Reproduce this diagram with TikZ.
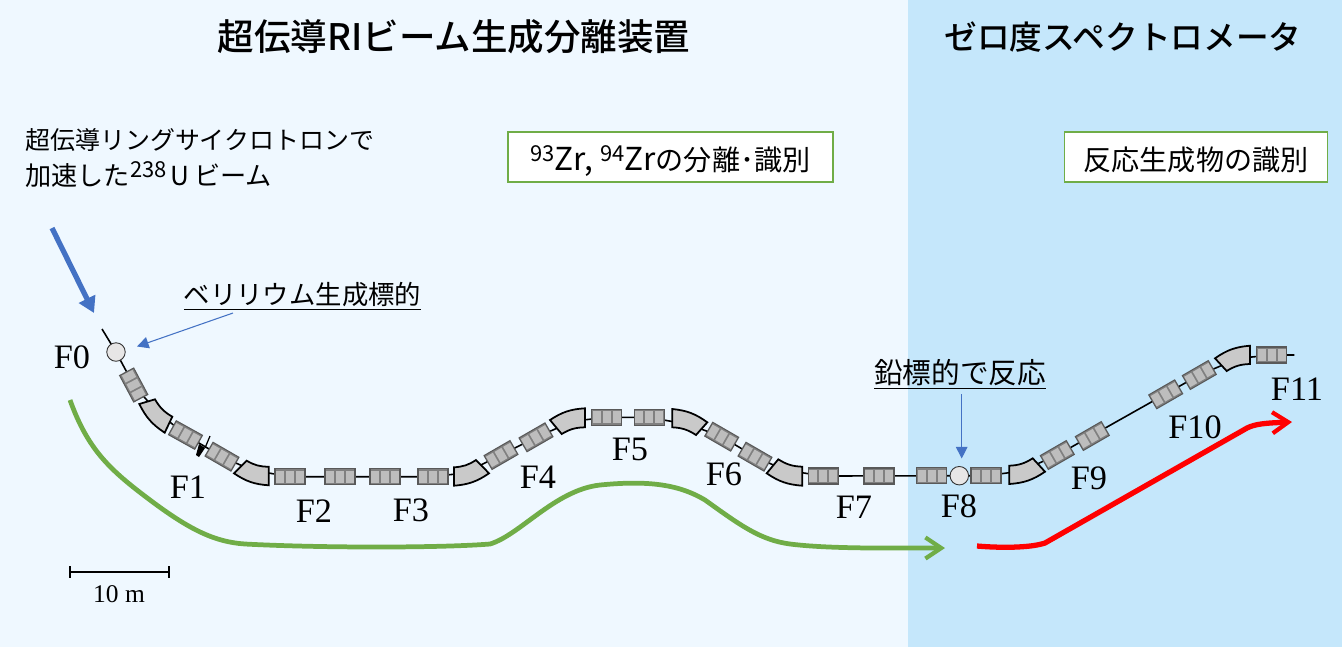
\documentclass[tikz,border=0pt]{standalone}
\usepackage{fontspec}
\setmainfont{Noto Sans CJK JP}
\newfontfamily\titlefont{Noto Sans CJK JP Medium}
\newfontfamily\labelfont{Liberation Serif}
\usetikzlibrary{calc,positioning,arrows.meta}
\pgfdeclarelayer{beamlayer}
\pgfdeclarelayer{backlayer}
\pgfsetlayers{backlayer,beamlayer,main}
\definecolor{leftbg}{HTML}{EFF8FF}
\definecolor{rightbg}{HTML}{C5E7FB}
\definecolor{boxgreen}{HTML}{70AD47}
\definecolor{beamblue}{HTML}{4472C4}
\definecolor{quadgray}{HTML}{808080}
\definecolor{celllight}{HTML}{BDBDBD}
\definecolor{dipolegray}{HTML}{C9C9C9}
\definecolor{targetgray}{HTML}{E7E6E6}

% quadrupole: name, position, angle
\newcommand{\quadmag}[3]{
	\node[quad box, rotate=#3] (#1) at (#2) {};
	\foreach \i in {0.18,0.5,0.82}
		\node[quad cell, rotate=#3] (#1-\i) at ($(#1.west)!\i!(#1.east)$) {};
}
% dipole: name, four corners, bend side of the first arc, of the second arc
\newcommand{\dipolemag}[7]{
	\draw[dipole] (#2) -- (#3) to[#6=15] (#4) -- (#5) to[#7=15] cycle;
	\coordinate (#1) at ($(#2)!.5!(#4)$);
}
\newcommand{\supnum}[1]{\raisebox{4.7pt}{\fontsize{12.5}{13}\selectfont #1}}
\newcommand{\latinbig}[1]{{\fontsize{18}{19}\selectfont #1}}

\begin{document}
\begin{tikzpicture}[
	%	style def
	x=0.02cm, y=-0.02cm,
	beam line/.style={line width=0.9pt, black},
	quad box/.style={draw=black!65, fill=quadgray, line width=0.6pt, minimum width=0.6cm, minimum height=0.32cm, inner sep=0pt},
	quad cell/.style={fill=celllight, minimum width=0.16cm, minimum height=0.24cm, inner sep=0pt},
	dipole/.style={draw=black, fill=dipolegray, line width=1pt, line join=miter},
	target/.style={circle, draw=black!80, fill=targetgray, line width=0.5pt, minimum size=0.37cm, inner sep=0pt},
	place label/.style={font=\labelfont\fontsize{19.5}{21}\selectfont, inner sep=0pt},
	jp text/.style={font=\fontsize{14.2}{20.4}\selectfont, inner sep=0pt},
	title text/.style={font=\titlefont\fontsize{20.8}{22}\selectfont, inner sep=0pt},
	green box/.style={draw=boxgreen, fill=white, line width=0.8pt, font=\fontsize{16}{17}\selectfont, inner sep=0pt, text height=16pt, text depth=1.2pt},
	flow line/.style={line width=2.7pt, line join=round, -{Straight Barb[length=9pt,width=12pt,line width=2.4pt]}},
	note arrow/.style={beamblue, line width=0.6pt, -{Triangle[length=6.6pt,width=6.6pt]}}
	]

	% background
	\begin{pgfonlayer}{backlayer}
		\fill[leftbg] (0,0) rectangle (908,647);
		\fill[rightbg] (908,0) rectangle (1342,647);
	\end{pgfonlayer}
	\useasboundingbox (0,0) rectangle (1342,647);

	% titles and boxes
	\node[title text] (title1) at (454,37) {超伝導RIビーム生成分離装置};
	\node[title text, font=\titlefont\fontsize{18.6}{22}\selectfont] (title2) at (1123,37) {ゼロ度スペクトロメータ};
	\node[jp text, align=left, anchor=west] (beamtext) at (25,158) {超伝導リングサイクロトロンで\\{\fontsize{14.9}{20.4}\selectfont 加速した\supnum{238}\,U\,ビーム}};
	\node[green box, minimum width=6.5cm, minimum height=1cm] (box1) at (670.5,157) {\supnum{93}\latinbig{Zr, }\supnum{94}\latinbig{Zr}の分離･識別};
	\node[green box, minimum width=5.26cm, minimum height=1cm] (box2) at (1196,157) {反応生成物の識別};

	% targets
	\node[target] (tgt0) at (116,352) {};
	\node[target] (tgt8) at (959.3,475.7) {};

	% quadrupoles and dipoles along the beam line
	\quadmag{q1}{133.7,385}{-62}
	\dipolemag{d1}{139.3,404}{155,399.3}{172.3,416.7}{164.7,432.7}{bend right}{bend left}
	\quadmag{q2}{185.5,435}{-29}
	\quadmag{q3}{222,456.7}{-30}
	\dipolemag{d2}{234,473.3}{246.7,460.7}{268.7,466.7}{268.7,485.3}{bend right}{bend left}
	\quadmag{q4}{290,476.7}{0}
	\quadmag{q5}{340,476.7}{0}
	\quadmag{q6}{385,476.7}{0}
	\quadmag{q7}{433,476.7}{0}
	\dipolemag{d3}{454,485.7}{454,467.3}{476,460}{489,473.3}{bend right}{bend left}
	\quadmag{q8}{501,455}{30}
	\quadmag{q9}{536,437.3}{30}
	\dipolemag{d4}{561.7,434}{550,420}{585,408.3}{585,427.3}{bend left}{bend right}
	\quadmag{q10}{606.7,417.3}{0}
	\quadmag{q11}{649.3,417.3}{0}
	\dipolemag{d5}{672.3,427.3}{672.3,409}{707.3,422.3}{696,435}{bend left}{bend right}
	\quadmag{q12}{721.7,436.7}{-30}
	\quadmag{q13}{755,456.7}{-30}
	\dipolemag{d6}{766.7,473.3}{778.3,459.3}{802.3,466.7}{802.3,485.7}{bend right}{bend left}
	\quadmag{q14}{823.3,476}{0}
	\quadmag{q15}{879,476}{0}
	\quadmag{q16}{931.7,475.7}{0}
	\quadmag{q17}{986,475.7}{0}
	\dipolemag{d7}{1009.3,484}{1009.3,465.7}{1032.7,458.3}{1045,471.7}{bend right}{bend left}
	\quadmag{q18}{1057.3,455}{30}
	\quadmag{q19}{1092.3,436}{30}
	\quadmag{q20}{1165.7,394.3}{30}
	\quadmag{q21}{1199.3,375}{30}
	\dipolemag{d8}{1226.7,371}{1215,358.3}{1250,345.7}{1250,364}{bend left}{bend right}
	\quadmag{q22}{1271.7,355}{0}
	\coordinate (beamstart) at (102,329);
	\coordinate (beamend) at (1294.3,355);

	\begin{pgfonlayer}{beamlayer}
		\draw[beam line] (beamstart) -- (tgt0.center) -- (q1.center) -- (d1) -- (q2.center) -- (q3.center) -- (d2) -- (q4.center) -- (q7.center) -- (d3) -- (q8.center) -- (q9.center) -- (d4) -- (q10.center) -- (q11.center) -- (d5) -- (q12.center) -- (q13.center) -- (d6) -- (q14.center) -- (q17.center) -- (d7) -- (q18.center) -- (q21.center) -- (d8) -- (q22.center) -- (beamend);
	\end{pgfonlayer}

	% slit at F1
	\fill[black] (199,444) -- (205,448) -- (199,457) -- (196,455) -- cycle;
	\draw[black, line width=0.7pt] (205,448) -- (210,436);

	% place labels
	\node[place label] (F0) at (72,357) {F0};
	\node[place label] (F1) at (188,487) {F1};
	\node[place label] (F2) at (314,511) {F2};
	\node[place label] (F3) at (411,510) {F3};
	\node[place label] (F4) at (538,477) {F4};
	\node[place label] (F5) at (630,449) {F5};
	\node[place label] (F6) at (724,474) {F6};
	\node[place label] (F7) at (854,507) {F7};
	\node[place label] (F8) at (959,506) {F8};
	\node[place label] (F9) at (1089,478) {F9};
	\node[place label] (F10) at (1195,427) {F10};
	\node[place label] (F11) at (1297,389) {F11};

	% target notes
	\node[jp text, font=\fontsize{15}{17}\selectfont] (note0) at (302.5,296) {\underline{ベリリウム生成標的}};
	\node[jp text, font=\fontsize{16.3}{17}\selectfont] (note8) at (960,374) {\underline{鉛標的で反応}};
	\coordinate (note0end) at (233,313);
	\coordinate (note8end) at (961.7,394);
	\draw[note arrow] (note0end) -- (137,346.5);
	\draw[note arrow] (note8end) -- (961.7,458.5);

	% primary beam
	\coordinate (primary) at (52,228);
	\draw[beamblue, line width=3pt, -{Triangle[length=9pt,width=10pt]}] (primary) -- (94,313);

	% flow arrows
	\draw[flow line, boxgreen] (70,400) .. controls (88,450) and (110,470) .. (150,500) .. controls (190,530) and (215,542) .. (245,544) .. controls (320,548) and (440,548) .. (490,544) .. controls (520,535) and (555,490) .. (600,485) .. controls (650,480) and (680,485) .. (705,500) .. controls (740,525) and (760,540) .. (790,544) .. controls (830,549) and (890,548) .. (945,548);
	\draw[flow line, red, line width=3pt] (977,546) .. controls (1000,548) and (1030,548) .. (1045,543) -- (1247,428) .. controls (1255,424) and (1265,423) .. (1292,422);

	% scale bar
	\coordinate (scaleA) at (70,572);
	\coordinate (scaleB) at (169,572);
	\draw[black, line width=0.7pt] (scaleA) -- (scaleB);
	\draw[black, line width=0.7pt] (70,566) -- (70,578);
	\draw[black, line width=0.7pt] (169,566) -- (169,578);
	\node[font=\labelfont\fontsize{14.5}{16}\selectfont, inner sep=0pt] (scalelabel) at (119,594) {10 m};
\end{tikzpicture}
\end{document}
